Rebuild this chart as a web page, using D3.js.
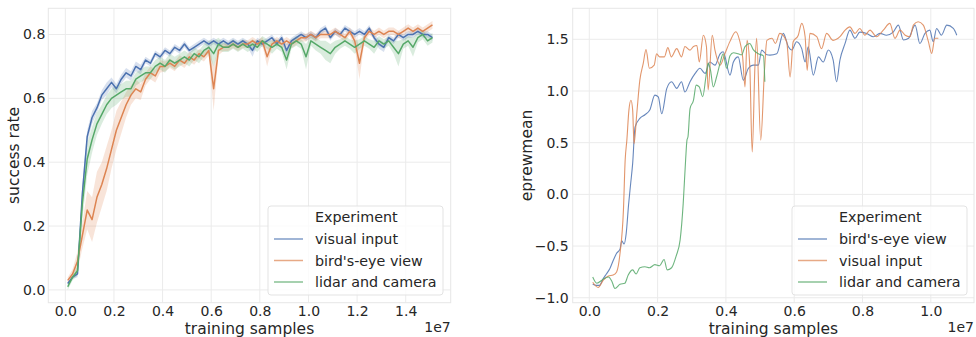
<!DOCTYPE html>
<html><head><meta charset="utf-8">
<script src="https://cdn.jsdelivr.net/npm/d3@7"></script>
<style>
body{margin:0;background:#fff;}
svg text{font-family:"DejaVu Sans",sans-serif;fill:#262626;}
</style></head>
<body><svg id="c" width="976" height="337"></svg>
<script>
// ---------- DATA ----------
const series = ["visual input", "bird's-eye view", "lidar and camera"];
const rightSeries = ["bird's-eye view", "visual input", "lidar and camera"];
const legendTitle = "Experiment";

// Left chart: success rate, samples every 0.02e7 starting at 0.01e7
const leftX = d3.range(76).map(i => 0.01 + 0.02 * i);
const leftVisual = [0.02,0.04,0.05,0.30,0.48,0.54,0.57,0.61,0.63,0.65,0.63,0.66,0.68,0.67,0.70,0.69,0.72,0.71,0.74,0.73,
  0.75,0.74,0.76,0.75,0.77,0.75,0.76,0.77,0.78,0.77,0.78,0.77,0.78,0.77,0.78,0.77,0.78,0.77,0.75,0.78,
  0.77,0.78,0.79,0.77,0.79,0.75,0.78,0.79,0.80,0.79,0.80,0.79,0.81,0.82,0.79,0.81,0.80,0.82,0.81,0.80,
  0.81,0.80,0.82,0.79,0.77,0.76,0.79,0.78,0.80,0.79,0.80,0.80,0.81,0.80,0.80,0.79];
const leftBird = [0.03,0.05,0.09,0.17,0.25,0.22,0.29,0.33,0.38,0.44,0.50,0.54,0.58,0.61,0.63,0.62,0.66,0.68,0.67,0.70,
  0.70,0.71,0.70,0.72,0.71,0.73,0.72,0.74,0.73,0.75,0.63,0.75,0.76,0.76,0.77,0.76,0.77,0.77,0.78,0.77,
  0.78,0.73,0.77,0.78,0.77,0.78,0.77,0.78,0.79,0.79,0.80,0.79,0.80,0.80,0.80,0.81,0.80,0.79,0.81,0.78,
  0.71,0.79,0.81,0.80,0.81,0.80,0.81,0.81,0.80,0.81,0.82,0.81,0.82,0.81,0.82,0.83];
const leftLidar = [0.01,0.04,0.06,0.27,0.41,0.47,0.52,0.55,0.58,0.60,0.61,0.62,0.63,0.63,0.66,0.67,0.68,0.68,0.70,0.71,
  0.70,0.72,0.71,0.72,0.73,0.72,0.74,0.73,0.75,0.76,0.74,0.77,0.76,0.76,0.77,0.76,0.77,0.76,0.77,0.76,
  0.78,0.77,0.76,0.77,0.76,0.72,0.77,0.78,0.77,0.73,0.78,0.77,0.76,0.75,0.74,0.76,0.77,0.78,0.77,0.76,
  0.77,0.78,0.77,0.76,0.78,0.77,0.78,0.76,0.74,0.77,0.78,0.76,0.79,0.80,0.78,0.79];
// half-width of the confidence band around each left series
const leftVisualCI = [0.005,0.005,0.01,0.03,0.02,0.02,0.015,0.015,0.02,0.015,0.015,0.015,0.015,0.015,0.015,0.015,0.01,0.01,0.01,0.01,
  0.01,0.01,0.01,0.01,0.01,0.01,0.01,0.01,0.01,0.01,0.01,0.01,0.01,0.01,0.01,0.01,0.01,0.01,0.02,0.01,
  0.01,0.01,0.01,0.01,0.01,0.02,0.01,0.01,0.01,0.01,0.01,0.01,0.01,0.01,0.01,0.01,0.01,0.01,0.01,0.01,
  0.01,0.01,0.01,0.01,0.015,0.015,0.01,0.01,0.01,0.01,0.01,0.01,0.01,0.01,0.01,0.01];
const leftBirdCI = [0.01,0.015,0.03,0.04,0.06,0.07,0.08,0.07,0.07,0.06,0.06,0.05,0.04,0.03,0.03,0.025,0.02,0.02,0.02,0.02,
  0.015,0.015,0.015,0.015,0.015,0.015,0.015,0.015,0.015,0.015,0.07,0.015,0.012,0.012,0.012,0.012,0.012,0.012,0.012,0.012,
  0.012,0.03,0.012,0.012,0.012,0.012,0.012,0.012,0.012,0.012,0.012,0.012,0.012,0.012,0.012,0.012,0.012,0.012,0.012,0.02,
  0.05,0.012,0.012,0.012,0.012,0.012,0.012,0.012,0.012,0.012,0.012,0.012,0.012,0.012,0.012,0.012];
const leftLidarCI = [0.01,0.01,0.015,0.05,0.05,0.04,0.035,0.03,0.03,0.03,0.03,0.025,0.025,0.025,0.02,0.02,0.02,0.02,0.02,0.02,
  0.02,0.02,0.02,0.02,0.02,0.02,0.02,0.02,0.02,0.02,0.04,0.02,0.015,0.015,0.015,0.015,0.015,0.015,0.015,0.015,
  0.015,0.015,0.02,0.015,0.015,0.03,0.015,0.015,0.015,0.04,0.015,0.02,0.02,0.03,0.03,0.02,0.015,0.015,0.015,0.02,
  0.015,0.015,0.015,0.02,0.015,0.015,0.015,0.02,0.04,0.015,0.015,0.03,0.015,0.015,0.015,0.015];

// Right chart: eprewmean
const rightBirdX = [0.01,0.02,0.03,0.04,0.05,0.06,0.07,0.08,0.09,0.095,0.102,0.108,0.115,0.121,0.127,0.134,0.148,0.163,0.177,0.192,
  0.202,0.212,0.227,0.241,0.256,0.27,0.28,0.295,0.31,0.324,0.339,0.353,0.368,0.383,0.392,0.412,0.422,0.436,0.451,0.466,
  0.48,0.495,0.505,0.52,0.529,0.549,0.568,0.583,0.593,0.607,0.622,0.632,0.641,0.656,0.671,0.685,0.70,0.714,0.724,0.734,
  0.749,0.763,0.778,0.792,0.812,0.832,0.851,0.87,0.89,0.905,0.92,0.935,0.954,0.968,0.983,0.997,1.007,1.017,1.031,1.047,
  1.066,1.076];
const rightBirdY = [-0.87,-0.88,-0.88,-0.82,-0.77,-0.72,-0.64,-0.57,-0.53,-0.45,-0.48,-0.38,-0.10,0.10,0.30,0.65,0.735,0.77,0.815,0.96,
  0.944,0.78,1.025,1.09,1.025,1.09,0.99,1.09,1.17,1.22,1.17,1.28,1.25,1.36,1.38,1.154,1.28,1.33,1.105,1.22,
  1.25,1.25,1.395,1.35,1.347,1.36,1.557,1.428,1.396,1.477,1.41,1.28,1.428,1.154,1.33,1.28,1.396,1.30,1.089,1.30,
  1.46,1.589,1.51,1.57,1.557,1.525,1.557,1.54,1.57,1.637,1.494,1.51,1.637,1.46,1.557,1.589,1.477,1.605,1.54,1.637,
  1.605,1.54];
const rightVisualX = [0.01,0.026,0.041,0.056,0.07,0.08,0.09,0.10,0.105,0.11,0.116,0.122,0.127,0.131,0.139,0.148,0.158,0.166,0.176,0.19,
  0.197,0.206,0.22,0.23,0.24,0.256,0.27,0.28,0.295,0.305,0.315,0.322,0.334,0.343,0.348,0.36,0.368,0.383,0.397,0.412,
  0.429,0.44,0.449,0.456,0.462,0.47,0.477,0.485,0.49,0.502,0.513,0.52,0.535,0.545,0.558,0.578,0.588,0.597,0.612,0.622,
  0.632,0.638,0.646,0.666,0.68,0.695,0.714,0.734,0.749,0.763,0.778,0.792,0.807,0.822,0.841,0.861,0.88,0.895,0.91,0.925,
  0.939,0.949,0.963,0.978,0.993,1.0026,1.012,1.022];
const rightVisualY = [-0.85,-0.90,-0.83,-0.79,-0.78,-0.75,-0.57,-0.15,0.33,0.525,0.815,0.91,0.815,0.49,0.78,1.105,1.267,1.40,1.22,1.25,
  1.36,1.33,1.33,1.42,1.33,1.41,1.33,1.43,1.395,1.43,1.44,1.28,1.54,1.43,1.01,1.54,1.395,1.25,1.36,1.48,
  1.573,1.49,1.33,1.04,1.49,1.235,0.41,1.235,1.51,0.525,1.2,1.49,1.51,1.46,1.557,1.477,1.137,1.477,1.54,1.654,
  1.525,1.20,1.557,1.525,1.41,1.557,1.49,1.525,1.589,1.62,1.557,1.605,1.54,1.589,1.525,1.589,1.654,1.51,1.589,1.54,
  1.525,1.637,1.67,1.637,1.477,1.364,1.51,1.51];
const rightLidarX = [0.01,0.022,0.041,0.056,0.066,0.075,0.09,0.104,0.114,0.127,0.137,0.148,0.163,0.176,0.192,0.206,0.219,0.228,0.241,0.254,
  0.266,0.275,0.282,0.286,0.289,0.295,0.305,0.313,0.322,0.332,0.342,0.348,0.355,0.363,0.373,0.383,0.392,0.402,0.412,0.422,
  0.436,0.446,0.456,0.47,0.48,0.495,0.51,0.514];
const rightLidarY = [-0.80,-0.86,-0.82,-0.80,-0.84,-0.91,-0.87,-0.86,-0.78,-0.73,-0.77,-0.71,-0.70,-0.71,-0.68,-0.69,-0.63,-0.73,-0.71,-0.60,
  -0.44,-0.087,0.33,0.525,0.557,0.83,0.91,1.057,1.04,0.944,1.15,1.27,1.20,1.04,1.14,1.27,1.36,1.22,1.34,1.37,
  1.36,1.35,1.43,1.46,1.40,1.36,1.34,1.09];

const leftXTicks = [0, 0.2, 0.4, 0.6, 0.8, 1.0, 1.2, 1.4];
const leftYTicks = [0, 0.2, 0.4, 0.6, 0.8];
const rightXTicks = [0, 0.2, 0.4, 0.6, 0.8, 1.0];
const rightYTicks = [-1.0, -0.5, 0, 0.5, 1.0, 1.5];

// ---------- DRAWING ----------
const colors = {"visual input":"#4c72b0","bird's-eye view":"#dd8452","lidar and camera":"#55a868"};
const rightColors = {"bird's-eye view":"#4c72b0","visual input":"#dd8452","lidar and camera":"#55a868"};
const svg = d3.select("#c");
const fmt = d3.format(".1f");
const minusFmt = v => fmt(v).replace("-", "\u2212");

function panel(opt) {
  const g = svg.append("g");
  const x = d3.scaleLinear().domain(opt.xDomain).range([opt.left, opt.right]);
  const y = d3.scaleLinear().domain(opt.yDomain).range([opt.bottom, opt.top]);
  // grid
  g.append("g").selectAll("line").data(opt.xTicks).join("line")
    .attr("x1", d => x(d)).attr("x2", d => x(d)).attr("y1", opt.top).attr("y2", opt.bottom)
    .attr("stroke", "#ebebeb").attr("stroke-width", 1);
  g.append("g").selectAll("line").data(opt.yTicks).join("line")
    .attr("y1", d => y(d)).attr("y2", d => y(d)).attr("x1", opt.left).attr("x2", opt.right)
    .attr("stroke", "#ebebeb").attr("stroke-width", 1);
  g.append("rect").attr("x", opt.left).attr("y", opt.top)
    .attr("width", opt.right - opt.left).attr("height", opt.bottom - opt.top)
    .attr("fill", "none").attr("stroke", "#e6e6e6").attr("stroke-width", 1);
  // axes
  const ax = g.append("g").attr("transform", `translate(0,${opt.bottom})`)
    .call(d3.axisBottom(x).tickValues(opt.xTicks).tickSize(0).tickPadding(3).tickFormat(fmt));
  const ay = g.append("g").attr("transform", `translate(${opt.left},0)`)
    .call(d3.axisLeft(y).tickValues(opt.yTicks).tickSize(0).tickPadding(opt.yPad).tickFormat(minusFmt));
  [ax, ay].forEach(a => {
    a.select(".domain").remove();
    a.selectAll("text").attr("font-size", 14).attr("fill", "#262626")
      .attr("font-family", "DejaVu Sans");
  });
  g.append("text").attr("x", (opt.left + opt.right) / 2 + opt.xLabelShift).attr("y", 333.5)
    .attr("text-anchor", "middle").attr("font-size", 15.5).text("training samples");
  g.append("text").attr("x", opt.right).attr("y", 331.5)
    .attr("text-anchor", "end").attr("font-size", 14).text("1e7");
  g.append("text").attr("transform", `translate(${opt.yLabelX},${(opt.top + opt.bottom) / 2})rotate(-90)`)
    .attr("text-anchor", "middle").attr("dy", "0.35em").attr("font-size", 15.5).text(opt.yLabel);
  return {g, x, y};
}

// Left panel
const L = panel({left:48.3, right:450.7, top:8.3, bottom:302.7,
  xDomain:[-0.07, 1.585], yDomain:[-0.04, 0.882],
  xTicks:leftXTicks, yTicks:leftYTicks, yPad:3, yLabel:"success rate", yLabelX:14, xLabelShift:0});
const leftData = [
  {name:"visual input", v:leftVisual, ci:leftVisualCI},
  {name:"bird's-eye view", v:leftBird, ci:leftBirdCI},
  {name:"lidar and camera", v:leftLidar, ci:leftLidarCI}
];
const clipL = svg.append("clipPath").attr("id","clipL").append("rect")
  .attr("x",48.3).attr("y",8.3).attr("width",402.4).attr("height",294.4);
const areaL = d3.area().x((d,i) => L.x(leftX[i]));
leftData.forEach(s => {
  L.g.append("path").datum(s.v)
    .attr("d", d3.area().x((d,i) => L.x(leftX[i])).y0((d,i) => L.y(d - s.ci[i])).y1((d,i) => L.y(d + s.ci[i]))(s.v))
    .attr("fill", colors[s.name]).attr("fill-opacity", 0.22).attr("stroke","none")
    .attr("clip-path","url(#clipL)");
});
leftData.forEach(s => {
  L.g.append("path")
    .attr("d", d3.line().x((d,i) => L.x(leftX[i])).y(d => L.y(d))(s.v))
    .attr("fill","none").attr("stroke", colors[s.name]).attr("stroke-width", 1.5)
    .attr("stroke-linejoin","round").attr("clip-path","url(#clipL)");
});

// Right panel
const R = panel({left:572.7, right:974, top:8.3, bottom:302.7,
  xDomain:[-0.0486, 1.1265], yDomain:[-1.048, 1.80],
  xTicks:rightXTicks, yTicks:rightYTicks, yPad:4, yLabel:"eprewmean", yLabelX:526.7, xLabelShift:0});
const rightData = [
  {name:"bird's-eye view", xs:rightBirdX, ys:rightBirdY},
  {name:"visual input", xs:rightVisualX, ys:rightVisualY},
  {name:"lidar and camera", xs:rightLidarX, ys:rightLidarY}
];
rightData.forEach(s => {
  R.g.append("path")
    .attr("d", d3.line().curve(d3.curveMonotoneX).x((d,i) => R.x(s.xs[i])).y(d => R.y(d))(s.ys))
    .attr("fill","none").attr("stroke", rightColors[s.name]).attr("stroke-width", 1.1)
    .attr("stroke-opacity", 0.85);
});

// Legends
function legend(x0, names, cmap, lw, op) {
  const g = svg.append("g");
  g.append("rect").attr("x", x0).attr("y", 206).attr("width", 175).attr("height", 89)
    .attr("rx", 3).attr("fill", "#fff").attr("fill-opacity", 0.8)
    .attr("stroke", "#e3e3e3").attr("stroke-width", 1);
  g.append("text").attr("x", x0 + 47).attr("y", 222).attr("font-size", 14.3).text(legendTitle);
  names.forEach((n, i) => {
    const cy = 239 + i * 21.5;
    g.append("line").attr("x1", x0 + 6).attr("x2", x0 + 35).attr("y1", cy).attr("y2", cy)
      .attr("stroke", cmap[n]).attr("stroke-width", lw).attr("stroke-opacity", op);
    g.append("text").attr("x", x0 + 47).attr("y", cy + 5).attr("font-size", 14.3).text(n);
  });
}
legend(268, series, colors, 1.5, 0.7);
legend(792, rightSeries, rightColors, 1.5, 0.7);
</script></body></html>
